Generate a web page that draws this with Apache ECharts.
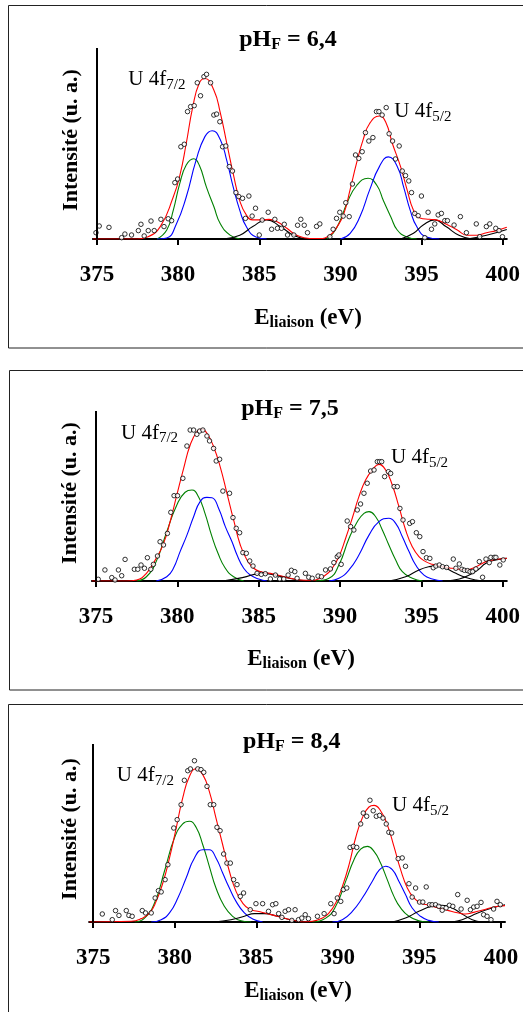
<!DOCTYPE html>
<html><head><meta charset="utf-8">
<script src="https://cdn.jsdelivr.net/npm/echarts@6/dist/echarts.min.js"></script>
<style>html,body{margin:0;padding:0;background:#fff}#c{width:523px;height:1012px}</style>
</head><body><div id="c"></div>
<script>
// ---------- tick labels / texts ----------
const xTicks = [375, 380, 385, 390, 395, 400];
const phValues = ['6,4', '7,5', '8,4'];
const peakLabels = ['7/2', '5/2'];

// ---------- panel 1 (pH 6,4) ----------
const p1Points = [[374.94,3.3],[375.14,6.8],[375.74,6.1],[376.52,0.7],[376.72,2.6],[377.13,2.1],[377.55,4.4],[377.71,7.7],[377.91,1.6],[378.16,4.4],[378.33,9.4],[378.53,4.4],[378.94,10.3],[379.13,6.5],[379.39,10.6],[379.6,9.6],[379.8,29.5],[379.97,31.4],[380.17,48.3],[380.38,49.6],[380.58,66.7],[380.77,69.3],[380.99,69.8],[381.18,81.8],[381.38,75.0],[381.59,85.0],[381.75,86.2],[382.0,81.8],[382.2,64.9],[382.37,65.4],[382.57,61.4],[382.74,48.3],[382.94,48.7],[383.15,37.9],[383.35,35.6],[383.56,24.3],[383.74,22.2],[383.97,21.3],[384.15,10.8],[384.36,22.5],[384.56,12.0],[384.77,16.1],[385.0,2.1],[385.18,9.9],[385.55,14.0],[385.76,5.1],[385.96,10.3],[386.12,5.6],[386.37,5.6],[386.54,7.7],[386.74,2.1],[387.13,2.1],[387.36,7.2],[387.56,10.3],[387.77,7.2],[387.97,3.3],[388.53,6.6],[388.73,7.9],[389.35,1.2],[389.55,5.1],[389.76,10.8],[389.96,14.0],[390.17,12.0],[390.33,19.0],[390.54,11.7],[390.74,28.8],[390.93,44.0],[391.13,42.2],[391.34,45.7],[391.54,55.7],[391.75,51.3],[392.0,53.1],[392.22,66.7],[392.37,66.7],[392.57,64.9],[392.82,68.8],[393.0,55.1],[393.21,51.3],[393.39,41.9],[393.62,48.7],[393.81,35.6],[394.01,33.2],[394.21,30.4],[394.38,24.3],[394.58,13.4],[394.79,12.2],[394.99,22.5],[395.2,0.7],[395.4,14.0],[395.61,5.1],[395.81,7.9],[396.02,12.6],[396.22,13.4],[396.43,9.6],[396.59,9.6],[397.0,7.3],[397.39,11.7],[397.76,3.3],[398.37,7.9],[398.58,1.2],[398.99,6.5],[399.2,7.9],[399.57,5.6],[399.77,4.4],[399.98,1.2]];
const p1Red = [[374.75,0],[377.5,0],[378.1,1],[378.9,6.5],[379.7,22],[380.1,33],[380.5,50],[380.9,69],[381.3,81.5],[381.65,84],[382.2,78],[382.6,66],[383.0,50],[383.4,34],[383.8,20],[384.2,12.6],[384.6,10],[385.2,10],[385.6,10.3],[386.1,9],[386.7,5.6],[387.3,2],[388.1,0.3],[388.7,0.3],[389.35,2],[389.8,6.5],[390.2,13],[390.6,26],[391.0,40],[391.4,52],[391.8,60.5],[392.4,64.4],[392.8,61],[393.2,50],[393.7,38],[394.1,26],[394.5,15],[394.9,11],[395.5,10.3],[395.9,10],[396.5,7.9],[397.2,4.7],[397.8,2],[398.4,2],[399.0,3.3],[399.6,4.4],[400.25,6.2]];
const p1GreenA = [[378.7,0],[379.3,4.7],[379.7,15],[380.1,29],[380.5,38.7],[380.95,42],[381.3,38.7],[381.75,27],[382.2,17],[382.6,8],[383.2,2],[383.8,0]];
const p1BlueA = [[378.7,0],[379.3,0.5],[379.9,8],[380.5,22],[381.1,41],[381.65,53.6],[382.1,56.7],[382.6,52],[383.0,41],[383.4,27],[383.8,15],[384.2,6.5],[384.8,1],[385.45,0]];
const p1BlackA = [[382.8,0],[383.8,2],[384.6,6.5],[385.45,10],[386.3,6.5],[387.1,2],[387.9,0]];
const p1GreenB = [[389.15,0],[389.55,3],[390.0,10],[390.4,18.7],[391.0,28],[391.7,31.8],[392.25,28],[392.65,20],[393.1,11.7],[393.5,4.7],[394.1,1],[394.7,0]];
const p1BlueB = [[390.0,0],[390.6,3],[391.2,11.7],[391.8,25.7],[392.4,37.9],[392.95,43],[393.5,38],[393.9,27],[394.3,15],[394.7,6.5],[395.3,1],[396.1,0]];
const p1BlackB = [[393.7,0],[394.5,3],[395.1,7.3],[395.8,10],[396.5,6.5],[397.3,2],[398.1,0]];
const p1BlackC = [[397.8,0],[399.0,2],[400.25,5]];

// ---------- panel 2 (pH 7,5) ----------
const p2Points = [[375.14,1.0],[375.55,6.5],[375.97,2.0],[376.17,0.6],[376.38,6.5],[376.58,3.1],[376.79,12.7],[377.36,6.9],[377.57,6.9],[377.77,9.4],[377.98,7.5],[378.16,13.7],[378.37,6.9],[378.53,9.8],[378.78,14.7],[378.94,23.1],[379.15,21.2],[379.39,28.0],[379.6,40.4],[379.8,50.2],[380.01,50.2],[380.34,60.4],[380.59,79.4],[380.79,88.8],[381.0,88.8],[381.2,86.3],[381.37,88.2],[381.57,88.8],[381.82,85.3],[381.98,82.4],[382.23,78.0],[382.39,70.6],[382.6,71.6],[382.8,52.9],[383.21,51.6],[383.42,37.3],[383.62,31.0],[383.83,28.4],[384.03,16.7],[384.24,16.3],[384.45,11.8],[384.65,8.8],[384.9,4.5],[385.16,3.9],[385.41,4.3],[385.72,1.2],[386.03,3.5],[386.29,1.2],[386.54,1.2],[386.81,3.5],[387.01,6.3],[387.22,5.5],[387.36,1.6],[387.87,4.5],[388.08,2.2],[388.29,1.6],[388.65,2.9],[388.86,2.5],[389.11,6.5],[389.41,7.1],[389.62,10.8],[389.83,14.3],[389.93,15.3],[390.07,9.8],[390.44,35.3],[390.65,32.0],[390.85,30.0],[391.06,41.8],[391.26,45.3],[391.47,51.6],[391.67,57.5],[391.88,64.7],[392.09,65.3],[392.29,70.2],[392.43,70.2],[392.56,70.2],[392.74,61.4],[392.97,64.3],[393.11,63.3],[393.32,55.5],[393.52,55.5],[393.68,42.7],[393.87,35.9],[394.28,33.9],[394.45,34.9],[394.69,28.4],[394.9,26.1],[395.1,17.3],[395.31,13.7],[395.52,13.3],[395.73,7.8],[395.89,8.8],[396.1,9.4],[396.3,8.4],[396.55,8.0],[396.96,12.9],[397.12,7.5],[397.33,10.0],[397.49,6.9],[397.64,6.3],[397.84,6.1],[397.99,5.5],[398.15,5.5],[398.35,7.1],[398.56,11.4],[398.76,2.2],[398.97,12.9],[399.17,10.8],[399.27,13.9],[399.48,13.9],[399.58,13.9],[399.82,9.4],[400.03,12.4]];
const p2Red = [[374.75,0],[376.9,0],[377.5,0.6],[378.1,4.5],[378.7,13.3],[379.15,22],[379.56,35],[379.97,50.6],[380.38,66],[380.79,80],[381.2,87.8],[381.5,89.4],[381.82,86.9],[382.23,79],[382.64,67],[383.05,51.6],[383.46,35.9],[383.87,21.2],[384.28,12.4],[384.7,7.5],[385.1,5.5],[385.72,4.5],[386.33,3.1],[386.95,1.6],[387.57,0.6],[388.2,0.4],[388.49,0.6],[389.11,3.5],[389.52,7.5],[389.93,14.3],[390.34,25],[390.75,36.9],[391.16,49.6],[391.57,59.4],[391.98,65.3],[392.39,68.6],[392.8,65.3],[393.21,56.5],[393.62,43.7],[394.03,30],[394.44,20.2],[394.85,14.3],[395.26,11.4],[395.67,9.8],[396.08,9],[396.5,8],[396.9,7.5],[397.33,6.9],[397.74,6.5],[398.15,7.5],[398.56,9.4],[398.97,11.4],[399.38,12.4],[399.79,12.9],[400.25,13.3]];
const p2GreenA = [[377.5,0],[378.1,2.5],[378.7,11.4],[379.35,29],[379.97,44.7],[380.48,52.2],[380.9,53.5],[381.3,49.6],[381.7,39.8],[382.1,27],[382.5,16.3],[382.95,7.5],[383.46,2.5],[384.08,0]];
const p2BlueA = [[378.7,0],[379.35,2.5],[379.76,7.5],[380.17,17.3],[380.59,27],[381.0,37.8],[381.4,46.7],[381.82,49.2],[382.13,49],[382.54,42.7],[382.95,32],[383.36,23.1],[383.67,15.3],[384.08,7.5],[384.49,3.5],[385.0,1.2],[385.5,0]];
const p2BlackA = [[382.8,0],[384.0,2],[385.2,4.5],[386.2,3],[387.2,1],[388.0,0]];
const p2GreenB = [[388.49,0],[389.32,1.6],[389.93,9.4],[390.55,25],[391.06,34.9],[391.47,39.8],[391.78,40.8],[392.19,37.8],[392.6,30],[393.0,21.2],[393.42,12.4],[393.83,5.5],[394.44,1.6],[395.06,0]];
const p2BlueB = [[389.32,0],[389.93,1.6],[390.55,6.5],[391.16,15.3],[391.78,27],[392.39,34.9],[393.0,36.9],[393.42,33.9],[393.83,26],[394.24,17.3],[394.65,9.4],[395.16,3.5],[395.67,1.2],[396.3,0]];
const p2BlackB = [[393.0,0],[394.03,2.5],[394.85,6.5],[395.46,8.4],[395.98,9],[396.5,7.5],[397.12,4.5],[397.74,2],[398.35,0.6],[398.97,0]];
const p2BlackC = [[396.5,0],[397.33,1.2],[397.94,3.5],[398.46,6.5],[398.97,10.4],[399.58,12.4],[400.25,13.3]];

// ---------- panel 3 (pH 8,4) ----------
const p3Points = [[375.56,4.5],[376.17,1.3],[376.37,6.4],[376.58,3.7],[377.03,6.4],[377.19,3.7],[377.39,3.2],[378.01,6.4],[378.21,5.1],[378.56,5.1],[378.8,13.5],[379.0,17.6],[379.17,16.9],[379.41,23.8],[379.58,32.2],[379.94,52.8],[380.15,57.5],[380.39,65.9],[380.59,79.6],[380.8,85.0],[380.96,86.0],[381.21,90.6],[381.41,86.0],[381.61,85.6],[381.78,84.1],[381.98,76.2],[382.18,65.9],[382.39,65.9],[382.59,53.2],[382.78,51.3],[383.0,38.2],[383.2,33.1],[383.41,33.1],[383.61,23.8],[383.82,21.0],[384.02,14.4],[384.22,16.3],[384.63,6.9],[384.98,10.3],[385.39,10.3],[385.75,6.0],[386.0,9.7],[386.2,10.3],[386.37,4.7],[386.57,2.6],[386.77,6.0],[386.98,6.9],[387.18,0.9],[387.38,6.9],[387.59,1.3],[387.79,2.2],[388.0,4.1],[388.2,1.9],[388.75,3.2],[389.16,4.7],[389.57,10.3],[389.77,4.7],[389.97,13.5],[390.18,11.6],[390.34,18.2],[390.55,19.1],[390.75,41.9],[390.95,42.5],[391.16,41.9],[391.4,55.1],[391.56,61.2],[391.77,59.4],[391.97,68.4],[392.17,62.5],[392.36,59.4],[392.56,59.9],[392.77,58.4],[392.97,55.1],[393.13,50.4],[393.3,50.0],[393.7,35.6],[393.95,36.0],[394.15,31.3],[394.36,21.5],[394.56,14.0],[394.77,19.1],[395.01,11.2],[395.21,11.2],[395.42,19.7],[395.62,9.7],[395.78,9.7],[395.99,9.7],[396.19,8.8],[396.4,6.6],[396.64,7.9],[396.84,9.4],[397.05,8.8],[397.35,15.4],[397.56,7.3],[397.93,12.2],[398.13,6.9],[398.33,8.4],[398.54,8.8],[398.78,11.0],[398.94,4.1],[399.15,3.2],[399.39,1.3],[399.55,7.3],[399.76,11.6],[399.96,9.7]];
const p3Red = [[374.75,0],[377.33,0.4],[377.95,1.9],[378.46,5.1],[378.86,11.6],[379.27,21.9],[379.68,36],[380.09,52.8],[380.49,69.7],[380.9,81.8],[381.31,86.1],[381.72,82.8],[382.12,73.4],[382.53,58.4],[382.94,43.4],[383.35,28.5],[383.76,17.2],[384.16,10.7],[384.57,7.3],[385.08,6.0],[385.69,4.7],[386.29,3.2],[386.91,1.7],[387.5,0.5],[387.83,0],[388.44,0.4],[389.06,2.2],[389.46,5.1],[389.87,10.7],[390.28,20],[390.69,32.2],[391.09,47.2],[391.5,58.4],[391.91,64.6],[392.22,65.5],[392.62,62.5],[393.03,54.7],[393.44,42.5],[393.85,29.4],[394.26,19.1],[394.66,13.5],[395.07,10.7],[395.58,9.4],[396.19,7.9],[396.8,6.4],[397.41,5.1],[397.82,4.5],[398.33,5.4],[398.95,6.9],[399.56,8.4],[400.25,9.2]];
const p3GreenA = [[377.54,0],[378.15,2.2],[378.76,10.7],[379.37,28.5],[379.98,47.2],[380.49,55.1],[380.9,56.6],[381.31,53.2],[381.72,43.4],[382.12,31.3],[382.53,19.1],[383.04,8.8],[383.55,3.2],[384.06,0.7],[384.67,0]];
const p3BlueA = [[378.56,0],[379.17,1.3],[379.68,5.1],[380.19,13.5],[380.7,24.7],[381.21,36],[381.72,40.6],[382.12,40.6],[382.53,36],[382.94,27.5],[383.35,19.1],[383.76,11.6],[384.27,5.1],[384.78,1.7],[385.39,0]];
const p3BlackA = [[382.43,0],[383.45,1.3],[384.27,3.2],[384.88,4.7],[385.5,4.7],[386.29,3.2],[387.1,1.3],[387.9,0]];
const p3GreenB = [[388.44,0],[389.26,2.2],[389.87,8.8],[390.48,22.8],[390.99,35],[391.4,41],[391.81,42.5],[392.22,39.7],[392.62,33.1],[393.03,23.8],[393.44,14.4],[393.85,7.9],[394.36,3.2],[394.97,0.7],[395.58,0]];
const p3BlueB = [[389.67,0],[390.28,1.3],[390.89,6],[391.5,13.5],[392.11,22.8],[392.56,29.4],[392.93,31.3],[393.34,29.4],[393.75,22.8],[394.15,15.4],[394.56,7.9],[395.07,3.2],[395.58,0.9],[396.19,0]];
const p3BlackB = [[393.34,0],[394.15,2.2],[394.97,6],[395.79,8.8],[396.4,9.4],[397.01,7.9],[397.62,4.5],[398.24,1.3],[398.85,0]];
const p3BlackC = [[397.01,0],[397.62,1.3],[398.24,3.7],[398.85,6],[399.46,7.9],[400.25,9.7]];

// ---------- build ----------
const SERIF = '"Liberation Serif","Times New Roman",serif';
const panels = [
  {pts:p1Points, red:p1Red, green:[p1GreenA,p1GreenB], blue:[p1BlueA,p1BlueB], black:[p1BlackA,p1BlackB,p1BlackC]},
  {pts:p2Points, red:p2Red, green:[p2GreenA,p2GreenB], blue:[p2BlueA,p2BlueB], black:[p2BlackA,p2BlackB,p2BlackC]},
  {pts:p3Points, red:p3Red, green:[p3GreenA,p3GreenB], blue:[p3BlueA,p3BlueB], black:[p3BlackA,p3BlackB,p3BlackC]}
];
const grids = [
  {left:92.9, right:15.9, top:48, height:191},
  {left:91.9, right:15.9, top:411, height:170},
  {left:89.1, right:18, top:744, height:178}
];
const layout = [
  {box:[8.5,5.5,342.5], title:[288,28.2], xname:[308,306.7], yname:[71.5,140], lab7:[128.3,69.3], lab5:[394.3,101.1]},
  {box:[9.5,370.5,319.5], title:[290,396.6], xname:[301,647.7], yname:[70.6,493], lab7:[121,422.9], lab5:[391,447.1]},
  {box:[8.5,704.5,400], title:[291.7,729.9], xname:[298,979.7], yname:[70.3,829], lab7:[116.8,765.4], lab5:[392,795.1]}
];

const xAxes = [], yAxes = [], series = [], elements = [];
function ln(i, data, color, z) {
  return {type:'line', xAxisIndex:i, yAxisIndex:i, data:data, symbol:'none', showSymbol:false,
    smooth:0.5, lineStyle:{color:color, width:1.1}, z:z, silent:true, animation:false};
}
panels.forEach((p, i) => {
  xAxes.push({type:'value', gridIndex:i, min:374.75, max:400.25,
    axisLine:{show:true, onZero:false, lineStyle:{color:'#000', width:2}},
    axisTick:{show:true, length:6, customValues:xTicks, lineStyle:{color:'#000', width:2}},
    axisLabel:{customValues:xTicks, margin:25, color:'#000', fontFamily:SERIF, fontWeight:'bold', fontSize:23},
    splitLine:{show:false}});
  yAxes.push({type:'value', gridIndex:i, min:0, max:100, show:false});
  p.green.forEach(d => series.push(ln(i, d, '#008000', 2)));
  p.blue.forEach(d => series.push(ln(i, d, '#0000ff', 2)));
  p.black.forEach(d => series.push(ln(i, d, '#000000', 2)));
  const red = ln(i, p.red, '#ff0000', 3);
  red.markLine = {symbol:['none','none'], silent:true, animation:false, label:{show:false},
    lineStyle:{color:'#000', width:2, type:'solid'}, data:[{xAxis:375}]};
  series.push(red);
  series.push({type:'scatter', xAxisIndex:i, yAxisIndex:i, data:p.pts, symbol:'circle', symbolSize:4.5,
    itemStyle:{color:'#fff', borderColor:'#000', borderWidth:1}, z:4, silent:true, animation:false});

  const L = layout[i];
  elements.push({type:'rect', shape:{x:L.box[0], y:L.box[1], width:600, height:L.box[2]},
    style:{fill:'none', stroke:'#222', lineWidth:1}, silent:true, z:0});
  const big = {fontFamily:SERIF, fontWeight:'bold', fontSize:24, fill:'#000', verticalAlign:'top'};
  const bigSub = {fontFamily:SERIF, fontWeight:'bold', fontSize:16, fill:'#000', verticalAlign:'top', padding:[9,0,0,0]};
  elements.push({type:'text', x:L.title[0], y:L.title[1], silent:true,
    style:{text:'{a|pH}{b|F}{a| = ' + phValues[i] + '}', align:'center', verticalAlign:'top', rich:{a:big, b:bigSub}}});
  const ax = {fontFamily:SERIF, fontWeight:'bold', fontSize:23, fill:'#000', verticalAlign:'top'};
  const axSub = {fontFamily:SERIF, fontWeight:'bold', fontSize:16, fill:'#000', verticalAlign:'top', padding:[8,0,0,0]};
  elements.push({type:'text', x:L.xname[0], y:L.xname[1], silent:true,
    style:{text:'{a|E}{b|liaison}{a| (eV)}', align:'center', verticalAlign:'top', rich:{a:ax, b:axSub}}});
  elements.push({type:'text', x:L.yname[0], y:L.yname[1], rotation:Math.PI/2, silent:true,
    style:{text:'Intensité (u. a.)', align:'center', verticalAlign:'middle', fontFamily:SERIF, fontWeight:'bold', fontSize:22, fill:'#000'}});
  const lb = {fontFamily:SERIF, fontSize:21, fill:'#000', verticalAlign:'top'};
  const lbSub = {fontFamily:SERIF, fontSize:15, fill:'#000', verticalAlign:'top', padding:[8,0,0,0]};
  elements.push({type:'text', x:L.lab7[0], y:L.lab7[1], silent:true,
    style:{text:'{a|U 4f}{b|' + peakLabels[0] + '}', align:'left', verticalAlign:'top', rich:{a:lb, b:lbSub}}});
  elements.push({type:'text', x:L.lab5[0], y:L.lab5[1], silent:true,
    style:{text:'{a|U 4f}{b|' + peakLabels[1] + '}', align:'left', verticalAlign:'top', rich:{a:lb, b:lbSub}}});
});

const chart = echarts.init(document.getElementById('c'), null, {renderer:'canvas'});
chart.setOption({
  backgroundColor:'#fff', animation:false,
  grid:grids, xAxis:xAxes, yAxis:yAxes, series:series,
  graphic:{elements:elements}
});
</script></body></html>
